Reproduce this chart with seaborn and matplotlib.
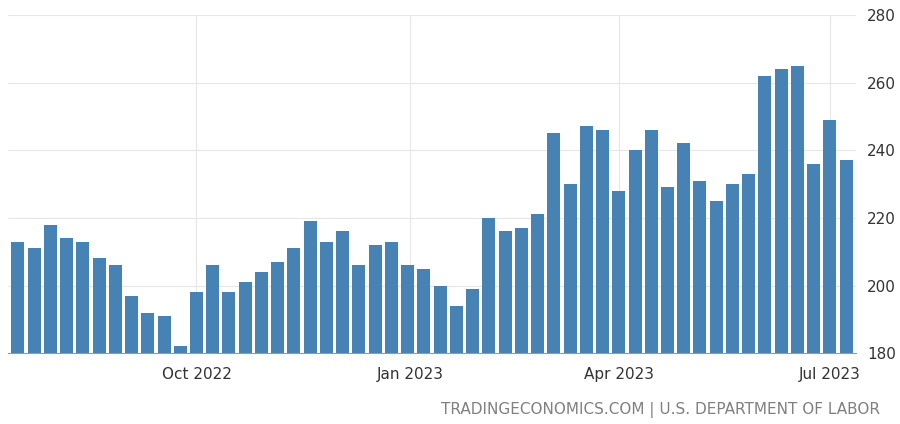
import pandas as pd
import numpy as np
import matplotlib.pyplot as plt
import seaborn as sns

sns.set_style('white')

# weekly initial jobless claims (thousands), week ending Saturdays
start_week = pd.Timestamp('2022-07-16')
claims = [213, 211, 218, 214, 213, 208, 206, 197, 192, 191, 182, 198, 206,
          198, 201, 204, 207, 211, 219, 213, 216, 206, 212, 213, 206, 205,
          200, 194, 199, 220, 216, 217, 221, 245, 230, 247, 246, 228, 240,
          246, 229, 242, 231, 225, 230, 233, 262, 264, 265, 236, 249, 237]
tick_dates = ['2022-10-01', '2023-01-01', '2023-04-01', '2023-07-01']
tick_labels = ['Oct 2022', 'Jan 2023', 'Apr 2023', 'Jul 2023']

df = pd.DataFrame({'week': range(len(claims)), 'claims': claims})

fig = plt.figure(figsize=(9, 4.24), dpi=100)
ax = fig.add_axes([0.009, 0.167, 0.942, 0.798])
sns.barplot(data=df, x='week', y='claims', color='#4682b4', saturation=1,
            width=0.8, linewidth=0, ax=ax)

ax.set_ylim(180, 280)
ax.set_xlim(-0.6, len(claims) - 0.4)
ax.yaxis.tick_right()
ax.set_yticks(range(180, 281, 20))
ax.tick_params(axis='both', length=0, labelsize=11, colors='#333333')
ax.tick_params(axis='x', pad=10)
ax.tick_params(axis='y', pad=8)

pos = [(pd.Timestamp(d) - start_week).days / 7 for d in tick_dates]
ax.set_xticks(pos)
ax.set_xticklabels(tick_labels)
ax.set_xlabel('')
ax.set_ylabel('')
ax.grid(True, color='#e6e6e6', linewidth=0.8)
ax.set_axisbelow(True)
for s in ['top', 'left', 'right']:
    ax.spines[s].set_visible(False)
ax.spines['bottom'].set_color('#999999')

fig.text(0.978, 0.015, 'TRADINGECONOMICS.COM | U.S. DEPARTMENT OF LABOR',
         ha='right', va='bottom', fontsize=11, color='#808080')

fig.savefig('out.png', dpi=100)
